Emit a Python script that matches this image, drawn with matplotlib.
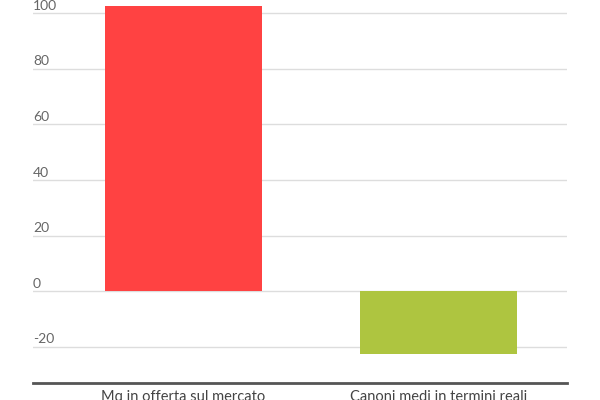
import matplotlib.pyplot as plt

categories = ["Mq in offerta sul mercato", "Canoni medi in termini reali"]
values = [102.5, -22.5]
colors = ["#ff4242", "#aec540"]
yticks = [-20, 0, 20, 40, 60, 80, 100]

plt.rcParams['font.family'] = ['Lato', 'DejaVu Sans']

fig = plt.figure(figsize=(6, 4), dpi=100)
ax = fig.add_axes([33 / 600, 1 - 383 / 400, 534 / 600, 383 / 400])

x = list(range(len(categories)))
ax.bar(x, values, width=0.617, color=colors, zorder=2)

ax.set_xlim(-0.591, 1.505)
ax.set_ylim(-33, 104.7)

for t in yticks:
    ax.axhline(t, color="#dddddd", lw=1, zorder=1)
    ax.text(0, t + 0.5, str(t), transform=ax.get_yaxis_transform(),
            ha="left", va="bottom", fontsize=10, color="#666666")

ax.set_yticks([])
ax.set_xticks(x)
ax.set_xticklabels(categories, fontsize=10.5, color="#444444")
ax.tick_params(axis="x", length=0, pad=5)

for s in ["top", "right", "left"]:
    ax.spines[s].set_visible(False)
ax.spines["bottom"].set_color("#555555")
ax.spines["bottom"].set_linewidth(2)

fig.savefig("out.png", dpi=100)
